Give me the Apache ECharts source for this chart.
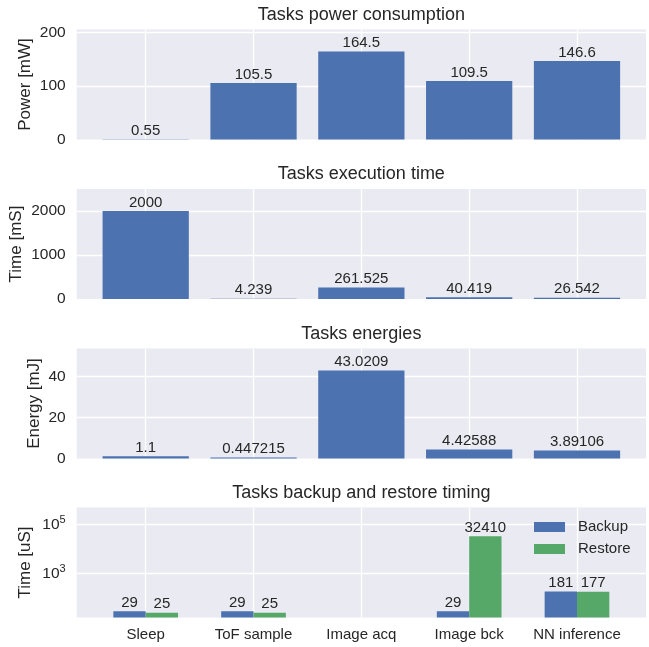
<!DOCTYPE html>
<html lang="en">
<head>
    <meta charset="UTF-8">
    <title>Tasks</title>
    <style>
        html, body { margin: 0; padding: 0; background: #fff; }
        #main { width: 649px; height: 647px; }
    </style>
    <script src="https://cdn.jsdelivr.net/npm/echarts@6/dist/echarts.min.js"></script>
</head>
<body>
<div id="main"></div>
<script type="text/javascript">
    // data
    var categories = ['Sleep', 'ToF sample', 'Image acq', 'Image bck', 'NN inference'];
    var power = [0.55, 105.5, 164.5, 109.5, 146.6];          // mW
    var execTime = [2000, 4.239, 261.525, 40.419, 26.542];    // mS
    var energy = [1.1, 0.447215, 43.0209, 4.42588, 3.89106];  // mJ
    var backup = [29, 29, null, 29, 181];                     // uS
    var restore = [25, 25, null, 32410, 177];                 // uS

    var titles = ['Tasks power consumption', 'Tasks execution time', 'Tasks energies', 'Tasks backup and restore timing'];
    var yNames = ['Power [mW]', 'Time [mS]', 'Energy [mJ]', 'Time [uS]'];

    var FONT = '"Liberation Sans", Arial, sans-serif';
    var TXT = '#262626';
    var BLUE = '#4C72B0', GREEN = '#55A868';

    var myChart = echarts.init(document.getElementById('main'));

    var gridTops = [29.5, 189, 348.5, 507.5];
    var plotLeft = 76.7, plotRight = 646;
    var nameGaps = [43, 52, 34, 43];

    function pairs(arr) {
        return arr.map(function (v, i) { return [i, v]; });
    }

    var grids = [], xAxes = [], yAxes = [], series = [], titleOpts = [];
    for (var k = 0; k < 4; k++) {
        grids.push({
            left: plotLeft, width: plotRight - plotLeft, top: gridTops[k], height: 110,
            outerBoundsMode: 'none', containLabel: false,
            show: true, backgroundColor: '#EAEAF2', borderWidth: 0
        });
        titleOpts.push({
            text: titles[k], left: (plotLeft + plotRight) / 2, top: gridTops[k] - 14.5,
            textAlign: 'center', textVerticalAlign: 'middle', padding: 0,
            textStyle: { fontFamily: FONT, fontSize: 18, fontWeight: 'normal', color: TXT }
        });
        xAxes.push({
            type: 'value', gridIndex: k, min: -0.64, max: 4.64,
            axisLine: { show: false }, axisTick: { show: false },
            splitLine: { show: true, showMinLine: false, showMaxLine: false, lineStyle: { color: '#fff', width: 1.3 } },
            axisLabel: {
                show: k === 3, margin: 10, fontFamily: FONT, fontSize: 15, color: TXT,
                showMinLabel: false, showMaxLabel: false,
                formatter: function (v) { return Number.isInteger(v) ? categories[v] : ''; }
            }
        });
    }

    var yCommon = {
        nameLocation: 'middle', nameRotate: 90, nameMoveOverlap: false,
        nameTextStyle: { fontFamily: FONT, fontSize: 17, color: TXT },
        axisLine: { show: false }, axisTick: { show: false },
        axisLabel: { fontFamily: FONT, fontSize: 15.5, color: TXT, margin: 11, showMaxLabel: false,
            formatter: function (v) { return String(v); } },
        splitLine: { show: true, showMinLine: false, showMaxLine: false, lineStyle: { color: '#fff', width: 1.3 } }
    };
    var yRanges = [[205.6, 100], [2500, 1000], [53.78, 20]];
    for (k = 0; k < 3; k++) {
        yAxes.push(Object.assign({}, yCommon, {
            type: 'value', gridIndex: k, name: yNames[k], nameGap: nameGaps[k],
            min: 0, max: yRanges[k][0], interval: yRanges[k][1]
        }));
    }
    yAxes.push(Object.assign({}, yCommon, {
        type: 'log', logBase: 10, gridIndex: 3, name: yNames[3], nameGap: nameGaps[3],
        min: 16, max: 480000, startValue: 16,
        axisLabel: {
            fontFamily: FONT, fontSize: 15.5, color: TXT, margin: 11,
            showMinLabel: false, showMaxLabel: false,
            formatter: function (v) {
                var e = Math.round(Math.log10(v));
                if (Math.abs(Math.log10(v) - e) > 1e-6 || e % 2 === 0) return '';
                return '{b|10}{s|' + e + '}';
            },
            rich: {
                b: { fontFamily: FONT, fontSize: 15.5, color: TXT },
                s: { fontFamily: FONT, fontSize: 11, color: TXT, verticalAlign: 'top', padding: [0, 0, 9, 0] }
            }
        },
        splitLine: { show: true, showMinLine: false, showMaxLine: false,
            lineStyle: { color: ['rgba(0,0,0,0)', '#fff'], width: 1.3 } }
    }));

    var barLabel = {
        show: true, position: 'top', distance: 1,
        fontFamily: FONT, fontSize: 15, color: TXT,
        formatter: function (p) { return String(p.value[1]); }
    };
    [power, execTime, energy].forEach(function (arr, i) {
        series.push({
            type: 'bar', xAxisIndex: i, yAxisIndex: i, data: pairs(arr),
            barWidth: '80%', itemStyle: { color: BLUE }, label: barLabel
        });
    });
    series.push({
        name: 'Backup', type: 'bar', xAxisIndex: 3, yAxisIndex: 3, data: pairs(backup),
        barWidth: '30%', barGap: '0%', itemStyle: { color: BLUE }, label: barLabel
    });
    series.push({
        name: 'Restore', type: 'bar', xAxisIndex: 3, yAxisIndex: 3, data: pairs(restore),
        barWidth: '30%', barGap: '0%', itemStyle: { color: GREEN }, label: barLabel
    });

    var option = {
        animation: false,
        backgroundColor: '#fff',
        title: titleOpts,
        legend: {
            data: ['Backup', 'Restore'], orient: 'vertical', left: 534, top: 519.5, padding: 0,
            itemWidth: 31, itemHeight: 10, itemGap: 7, icon: 'rect',
            textStyle: { fontFamily: FONT, fontSize: 15, color: TXT, lineHeight: 15, padding: [0, 0, 0, 8] }
        },
        grid: grids,
        xAxis: xAxes,
        yAxis: yAxes,
        series: series
    };
    myChart.setOption(option);
</script>
</body>
</html>
